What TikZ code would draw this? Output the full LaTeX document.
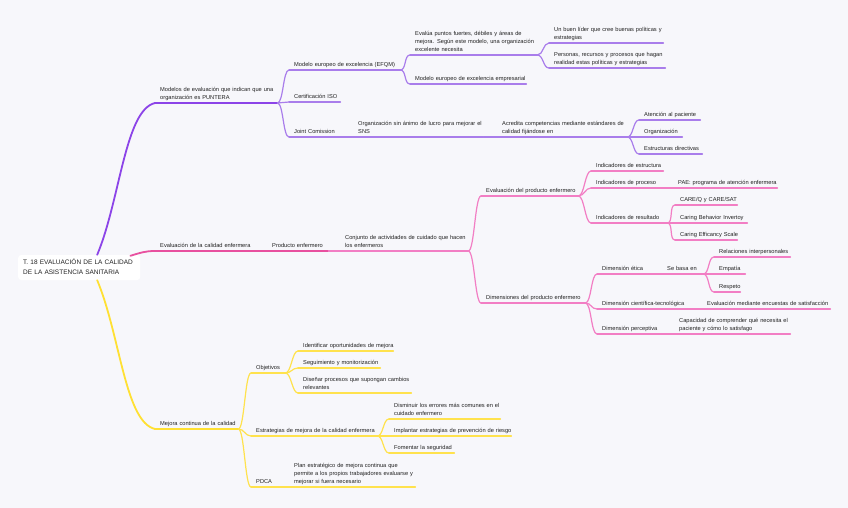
\documentclass[tikz,border=0pt]{standalone}
\usepackage{fontspec}
\setmainfont{Liberation Sans}
\usetikzlibrary{calc}
\definecolor{bg}{HTML}{F7F7FB}
\definecolor{pur1}{HTML}{8C44E8}
\definecolor{pur2}{HTML}{A97DEB}
\definecolor{pnk1}{HTML}{E8509F}
\definecolor{pnk2}{HTML}{F27EC4}
\definecolor{yel1}{HTML}{FFE033}
\definecolor{yel2}{HTML}{FFE24D}
\definecolor{txt}{HTML}{222222}
\newcommand\mltext[1]{\begin{tabular}{@{}l@{}}#1\end{tabular}}
\newcommand\topicfont{\fontsize{5.7}{8}\selectfont}
\newcommand\rootfont{\fontsize{6.5}{10}\selectfont}
\begin{document}
\begin{tikzpicture}[x=1pt,y=-1pt,
  topic/.style={anchor=south west, inner xsep=5pt, inner ysep=0.5pt, align=left, font=\topicfont, text=txt},
  rootbox/.style={anchor=west, fill=white, rounded corners=3pt, inner xsep=5pt, inner ysep=0pt, minimum height=25pt, align=left, font=\rootfont, text=txt},
  p1/.style={draw=pur1, line width=1.8pt, line cap=round},
  p2/.style={draw=pur2, line width=1.2pt, line cap=round},
  k1/.style={draw=pnk1, line width=1.8pt, line cap=round},
  k2/.style={draw=pnk2, line width=1.2pt, line cap=round},
  y1/.style={draw=yel1, line width=1.8pt, line cap=round},
  y2/.style={draw=yel2, line width=1.2pt, line cap=round},
  fork/.style={to path={.. controls +(6,0) and +(-6,0) .. (\tikztotarget)}}
]
\path[fill=bg] (0,0) rectangle (848,508);

% root
\node[rootbox, text width=112pt] (root) at (18,267.5) {\mltext{T. 18 EVALUACIÓN DE LA CALIDAD\\DE LA ASISTENCIA SANITARIA}};

% purple branch
\node[topic,text width=112pt] (mod) at (155,103) {\mltext{Modelos de evaluación que indican que una\\organización es PUNTERA}};
\node[topic,text width=101pt] (efqm) at (289,70) {\mltext{Modelo europeo de excelencia (EFQM)}};
\node[topic,text width=41pt] (iso) at (289,102) {\mltext{Certificación ISO}};
\node[topic,text width=53pt] (joint) at (289,137) {\mltext{Joint Comission}};
\node[topic,text width=120pt] (org) at (353,137) {\mltext{Organización sin ánimo de lucro para mejorar el\\SNS}};
\node[topic,text width=120pt] (acr) at (497,137) {\mltext{Acredita competencias mediante estándares de\\calidad fijándose en}};
\node[topic,text width=51pt] (aten) at (639,120) {\mltext{Atención al paciente}};
\node[topic,text width=33pt] (orgz) at (639,137) {\mltext{Organización}};
\node[topic,text width=53pt] (estr) at (639,154) {\mltext{Estructuras directivas}};
\node[topic,text width=117pt] (evalua) at (410,55) {\mltext{Evalúa puntos fuertes, débiles y áreas de\\mejora. Según este modelo, una organización\\excelente necesita}};
\node[topic,text width=106pt] (meer) at (410,84) {\mltext{Modelo europeo de excelencia empresarial}};
\node[topic,text width=104pt] (lider) at (549,43) {\mltext{Un buen líder que cree buenas políticas y\\estrategias}};
\node[topic,text width=106pt] (pers) at (549,68) {\mltext{Personas, recursos y procesos que hagan\\realidad estas políticas y estrategias}};

% pink branch
\node[topic,text width=100pt] (evc) at (155,251) {\mltext{Evaluación de la calidad enfermera}};
\node[topic,text width=51pt] (prod) at (267,251) {\mltext{Producto enfermero}};
\node[topic,text width=118pt] (conj) at (340,251) {\mltext{Conjunto de actividades de cuidado que hacen\\los enfermeros}};
\node[topic,text width=87pt] (epe) at (481,196) {\mltext{Evaluación del producto enfermero}};
\node[topic,text width=94pt] (dpe) at (481,303) {\mltext{Dimensiones del producto enfermero}};
\node[topic,text width=62pt] (iest) at (591,171) {\mltext{Indicadores de estructura}};
\node[topic,text width=59pt] (iproc) at (591,188) {\mltext{Indicadores de proceso}};
\node[topic,text width=94pt] (pae) at (673,188) {\mltext{PAE: programa de atención enfermera}};
\node[topic,text width=66pt] (ires) at (591,223) {\mltext{Indicadores de resultado}};
\node[topic,text width=52pt] (care) at (675,205) {\mltext{CARE/Q y CARE/SAT}};
\node[topic,text width=62pt] (cbi) at (675,223) {\mltext{Caring Behavior Invertoy}};
\node[topic,text width=52pt] (ces) at (675,240) {\mltext{Caring Efficancy Scale}};
\node[topic,text width=40pt] (deti) at (597,274) {\mltext{Dimensión ética}};
\node[topic,text width=31pt] (sebasa) at (662,274) {\mltext{Se basa en}};
\node[topic,text width=66pt] (rel) at (714,257) {\mltext{Relaciones interpersonales}};
\node[topic,text width=21pt] (emp) at (714,274) {\mltext{Empatía}};
\node[topic,text width=16pt] (resp) at (714,292) {\mltext{Respeto}};
\node[topic,text width=81pt] (dct) at (597,309) {\mltext{Dimensión científica-tecnológica}};
\node[topic,text width=118pt] (encu) at (702,309) {\mltext{Evaluación mediante encuestas de satisfacción}};
\node[topic,text width=53pt] (dper) at (597,334) {\mltext{Dimensión perceptiva}};
\node[topic,text width=106pt] (capac) at (674,334) {\mltext{Capacidad de comprender qué necesita el\\paciente y cómo lo satisfago}};

% yellow branch
\node[topic,text width=73pt] (mej) at (155,429) {\mltext{Mejora continua de la calidad}};
\node[topic,text width=24pt] (obj) at (251,373) {\mltext{Objetivos}};
\node[topic,text width=85pt] (iden) at (298,351) {\mltext{Identificar oportunidades de mejora}};
\node[topic,text width=72pt] (segu) at (298,368) {\mltext{Seguimiento y monitorización}};
\node[topic,text width=103pt] (dise) at (298,393) {\mltext{Diseñar procesos que supongan cambios\\relevantes}};
\node[topic,text width=116pt] (estm) at (251,436) {\mltext{Estrategias de mejora de la calidad enfermera}};
\node[topic,text width=101pt] (dism) at (389,419) {\mltext{Disminuir los errores más comunes en el\\cuidado enfermero}};
\node[topic,text width=112pt] (impl) at (389,436) {\mltext{Implantar estrategias de prevención de riesgo}};
\node[topic,text width=55pt] (fome) at (389,453) {\mltext{Fomentar la seguridad}};
\node[topic,text width=28pt] (pdca) at (251,487) {\mltext{PDCA}};
\node[topic,text width=116pt] (plan) at (289,487) {\mltext{Plan estratégico de mejora continua que\\permite a los propios trabajadores evaluarse y\\mejorar si fuera necesario}};

% underlines
\foreach \n in {mod} \draw[p1] (\n.south west) -- (\n.south east);
\foreach \n in {efqm,iso,joint,org,acr,aten,orgz,estr,evalua,meer,lider,pers} \draw[p2] (\n.south west) -- (\n.south east);
\foreach \n in {evc,prod} \draw[k1] (\n.south west) -- (\n.south east);
\foreach \n in {conj,epe,dpe,iest,iproc,pae,ires,care,cbi,ces,deti,sebasa,rel,emp,resp,dct,encu,dper,capac} \draw[k2] (\n.south west) -- (\n.south east);
\foreach \n in {mej} \draw[y1] (\n.south west) -- (\n.south east);
\foreach \n in {obj,iden,segu,dise,estm,dism,impl,fome,pdca,plan} \draw[y2] (\n.south west) -- (\n.south east);

% root connectors
\draw[p1] ([xshift=18pt]root.north) .. controls +(23,-55) and +(-30,7) .. (mod.south west);
\draw[k1] ([xshift=-10pt,yshift=-1pt]root.north east) .. controls +(10,-3) and +(-10,0) .. (evc.south west);
\draw[y1] ([xshift=18pt]root.south) .. controls +(23,55) and +(-30,-7) .. (mej.south west);

% purple connectors
\draw[p2] (mod.south east) to[fork] (efqm.south west);
\draw[p2] (mod.south east) to[fork] (iso.south west);
\draw[p2] (mod.south east) to[fork] (joint.south west);
\draw[p2] (joint.south east) -- (org.south west);
\draw[p2] (org.south east) -- (acr.south west);
\draw[p2] (acr.south east) to[fork] (aten.south west);
\draw[p2] (acr.south east) to[fork] (orgz.south west);
\draw[p2] (acr.south east) to[fork] (estr.south west);
\draw[p2] (efqm.south east) to[fork] (evalua.south west);
\draw[p2] (efqm.south east) to[fork] (meer.south west);
\draw[p2] (evalua.south east) to[fork] (lider.south west);
\draw[p2] (evalua.south east) to[fork] (pers.south west);

% pink connectors
\draw[k1] (evc.south east) -- (prod.south west);
\draw[k2] (prod.south east) -- (conj.south west);
\draw[k2] (conj.south east) to[fork] (epe.south west);
\draw[k2] (conj.south east) to[fork] (dpe.south west);
\draw[k2] (epe.south east) to[fork] (iest.south west);
\draw[k2] (epe.south east) to[fork] (iproc.south west);
\draw[k2] (epe.south east) to[fork] (ires.south west);
\draw[k2] (iproc.south east) -- (pae.south west);
\draw[k2] (ires.south east) to[fork] (care.south west);
\draw[k2] (ires.south east) to[fork] (cbi.south west);
\draw[k2] (ires.south east) to[fork] (ces.south west);
\draw[k2] (dpe.south east) to[fork] (deti.south west);
\draw[k2] (dpe.south east) to[fork] (dct.south west);
\draw[k2] (dpe.south east) to[fork] (dper.south west);
\draw[k2] (deti.south east) -- (sebasa.south west);
\draw[k2] (sebasa.south east) to[fork] (rel.south west);
\draw[k2] (sebasa.south east) to[fork] (emp.south west);
\draw[k2] (sebasa.south east) to[fork] (resp.south west);
\draw[k2] (dct.south east) -- (encu.south west);
\draw[k2] (dper.south east) -- (capac.south west);

% yellow connectors
\draw[y2] (mej.south east) to[fork] (obj.south west);
\draw[y2] (mej.south east) to[fork] (estm.south west);
\draw[y2] (mej.south east) to[fork] (pdca.south west);
\draw[y2] (obj.south east) to[fork] (iden.south west);
\draw[y2] (obj.south east) to[fork] (segu.south west);
\draw[y2] (obj.south east) to[fork] (dise.south west);
\draw[y2] (estm.south east) to[fork] (dism.south west);
\draw[y2] (estm.south east) to[fork] (impl.south west);
\draw[y2] (estm.south east) to[fork] (fome.south west);
\draw[y2] (pdca.south east) -- (plan.south west);
\end{tikzpicture}
\end{document}
